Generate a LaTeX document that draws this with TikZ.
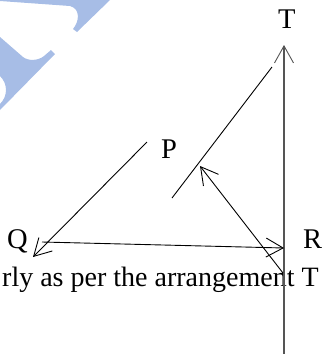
\documentclass[tikz,border=0pt]{standalone}
\usepackage{fontspec}
\setmainfont{Liberation Serif}
\usetikzlibrary{arrows.meta}
\definecolor{wm}{RGB}{167,189,230}
\definecolor{axisgrey}{RGB}{85,85,85}
\begin{document}
\begin{tikzpicture}[x=1pt,y=-1pt,
  lbl/.style={font=\fontsize{28.5}{32}\selectfont, inner sep=0pt, anchor=base west},
  ln/.style={line width=0.9pt, black},
  axisln/.style={line width=1.4pt, axisgrey},
  barb/.style={-{Straight Barb[length=17pt,width=19pt,line width=0.9pt]}},
]
\useasboundingbox (0,0) rectangle (322,354);
% watermark fragments
\fill[wm] (0,0) -- (110,0) -- (77,32) -- (73,29) .. controls (79,22) and (81,9) .. (70,6) -- (0,1) -- cycle;
\fill[wm] (0,37) -- (23,57) .. controls (28,61) and (38,61) .. (44,56) -- (51,50) -- (55,54) -- (0,110) -- (0,104) .. controls (8,96) and (8,84) .. (0,76) -- cycle;
% labels
\node[lbl] (T) at (278,28) {T};
\node[lbl] (P) at (161,158) {P};
\node[lbl] (Q) at (7,248) {Q};
\node[lbl] (R) at (303,248) {R};
\node[lbl, font=\fontsize{28}{32}\selectfont] (txt) at (2,286) {rly as per the arrangement T};
% connector end points
\coordinate (Ttip) at (284,45);
\coordinate (Vbot) at (284,354);
\coordinate (Pend) at (147,142);
\coordinate (Qtip) at (33,257);
\coordinate (Qstart) at (42,242);
\coordinate (Rtip) at (284,248);
\coordinate (S1) at (272,67);
\coordinate (S2) at (172,198);
\coordinate (Rstart) at (283,273);
\coordinate (Stip) at (200,166);
% connectors
\draw[axisln, barb] (Vbot) -- (Ttip);
\draw[ln, barb] (Pend) -- (Qtip);
\draw[ln, barb] (Qstart) -- (Rtip);
\draw[ln] (S1) -- (S2);
\draw[ln, barb] (Rstart) -- (Stip);
\end{tikzpicture}
\end{document}
